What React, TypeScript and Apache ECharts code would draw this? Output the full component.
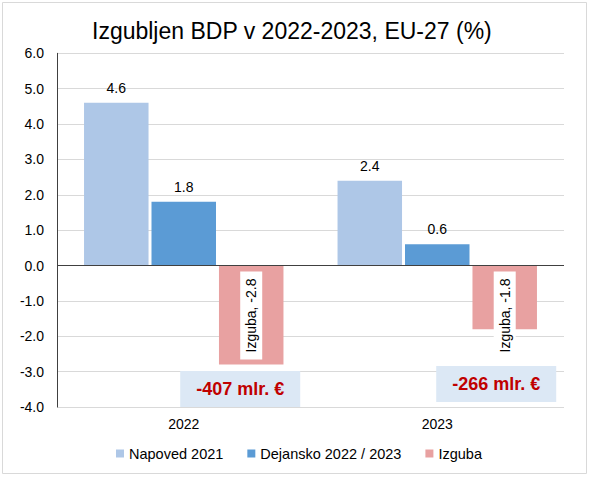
import { useEffect, useRef } from "react";
import * as echarts from "echarts";

const categories = ["2022", "2023"];
const napoved = [4.6, 2.4];
const dejansko = [1.8, 0.6];
const izguba = [-2.8, -1.8];
const lossBn = [-407, -266];
const seriesNames = ["Napoved 2021", "Dejansko 2022 / 2023", "Izguba"];
const yMin = -4;
const yMax = 6;

const FONT = "'Liberation Sans', Arial, Helvetica, sans-serif";

export default function App() {
  const chartRef = useRef<HTMLDivElement>(null);

  useEffect(() => {
    document.body.style.margin = "0";
    if (!chartRef.current) return;
    const chart = echarts.init(chartRef.current, undefined, { renderer: "svg" });

    const topLabel = {
      show: true,
      position: "top" as const,
      distance: 8,
      color: "#000",
      fontSize: 14,
      fontFamily: FONT,
      formatter: (p: any) => Number(p.value).toFixed(1),
    };

    // where the loss boxes sit (annotation placement, relative to the Izguba bar)
    const boxY = [-3.49, -3.35];
    const boxShift = [-11, -8.5];

    const option: echarts.EChartsOption = {
      animation: false,
      backgroundColor: "#fff",
      textStyle: { fontFamily: FONT },
      title: {
        text: "Izgubljen BDP v 2022-2023, EU-27 (%)",
        left: 92,
        top: 19,
        padding: 0,
        textStyle: { fontSize: 23, fontWeight: "normal", color: "#000", fontFamily: FONT },
      },
      legend: {
        data: seriesNames,
        left: 116,
        top: 446,
        padding: 0,
        icon: "rect",
        itemWidth: 8,
        itemHeight: 8,
        itemGap: 24,
        textStyle: { fontSize: 14.5, color: "#000", fontFamily: FONT },
      },
      graphic: [
        {
          type: "rect",
          shape: { x: 2.5, y: 2.5, width: 584, height: 471 },
          style: { fill: "none", stroke: "#d9d9d9", lineWidth: 1 },
          silent: true,
        },
      ],
      grid: { left: 57, right: 27, top: 53.3, bottom: 70 },
      xAxis: {
        type: "category",
        data: categories,
        axisLine: { show: false, onZero: false },
        axisTick: { show: false },
        axisLabel: { color: "#000", fontSize: 14, margin: 10, fontFamily: FONT },
        splitLine: { show: false },
      },
      yAxis: {
        type: "value",
        min: yMin,
        max: yMax,
        interval: 1,
        axisLine: { show: true, lineStyle: { color: "#404040", width: 1 } },
        axisTick: { show: false },
        axisLabel: {
          color: "#000",
          fontSize: 14,
          margin: 13,
          fontFamily: FONT,
          formatter: (v: number) => v.toFixed(1),
        },
        splitLine: { show: true, lineStyle: { color: "#d9d9d9", width: 1 } },
      },
      series: [
        {
          name: seriesNames[0],
          type: "bar",
          data: napoved,
          barWidth: 64.5,
          barGap: "4.6%",
          itemStyle: { color: "#aec7e7" },
          label: topLabel,
          markLine: {
            silent: true,
            symbol: ["none", "none"],
            label: { show: false },
            lineStyle: { color: "#404040", width: 1, type: "solid" },
            data: [{ yAxis: 0 }],
          },
        },
        {
          name: seriesNames[1],
          type: "bar",
          data: dejansko,
          barWidth: 64.5,
          barGap: "4.6%",
          itemStyle: { color: "#5b9bd5" },
          label: topLabel,
        },
        {
          name: seriesNames[2],
          type: "bar",
          data: izguba,
          barWidth: 64.5,
          barGap: "4.6%",
          itemStyle: { color: "#e8a1a1" },
          label: {
            show: true,
            position: "insideTop",
            distance: 6,
            rotate: 90,
            align: "right",
            verticalAlign: "middle",
            color: "#000",
            fontSize: 14,
            fontFamily: FONT,
            backgroundColor: "#fff",
            padding: [4, 7],
            formatter: (p: any) => `${p.seriesName}, ${Number(p.value).toFixed(1)}`,
          },
          markPoint: {
            symbol: "rect",
            symbolSize: [120, 36],
            itemStyle: { color: "#dce8f5" },
            label: {
              show: true,
              position: "inside",
              color: "#c00000",
              fontSize: 18,
              fontWeight: "bold",
              fontFamily: FONT,
              formatter: (p: any) => `${p.value} mlr. €`,
            },
            data: categories.map((c, i) => ({
              coord: [c, boxY[i]],
              value: lossBn[i],
              symbolOffset: [boxShift[i], 0],
            })),
          },
        },
      ],
    };

    chart.setOption(option);
    return () => chart.dispose();
  }, []);

  return <div ref={chartRef} style={{ width: 591, height: 477 }} />;
}
